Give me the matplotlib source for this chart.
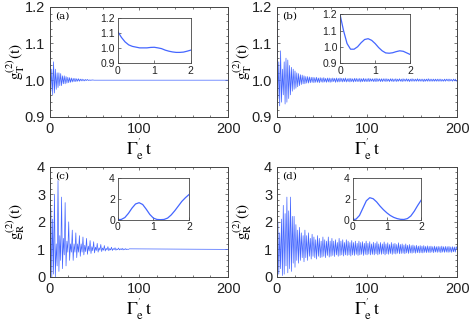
import matplotlib.pyplot as plt
import numpy as np
from matplotlib.ticker import AutoMinorLocator

plt.rcParams['mathtext.fontset'] = 'stix'
plt.rcParams['font.family'] = 'Liberation Sans'

# main curves, sampled every DT in units of Gamma_e' t
DT = 1.0
t_end = 200

g_a = [1.10, 0.97, 1.03, 0.96, 1.05, 0.965, 1.03, 0.975, 1.02, 0.98,
       1.02, 0.985, 1.018, 0.985, 1.012, 0.99, 1.012, 0.99, 1.01, 0.992,
       1.008, 0.993, 1.007, 0.994, 1.006, 0.995, 1.005, 0.996, 1.005, 0.996,
       1.004, 0.997, 1.004, 0.997, 1.003, 0.998, 1.003, 0.998, 1.002, 0.998,
       1.002, 0.999, 1.002, 0.999, 1.001, 0.999, 1.001, 0.9995, 1.001, 1.0,
       1.0]

g_b = [1.20, 0.95, 1.05, 0.93, 1.08, 0.94, 1.03, 0.96, 1.05, 0.935,
       1.06, 0.94, 1.055, 0.95, 1.04, 0.96, 1.035, 0.97, 1.03, 0.975,
       1.025, 0.978, 1.02, 0.982, 1.018, 0.985, 1.015, 0.988, 1.014, 0.99,
       1.012, 0.99, 1.01, 0.992, 1.01, 0.992, 1.009, 0.993, 1.008, 0.994,
       1.008, 0.993, 1.007, 0.994, 1.008, 0.994, 1.006, 0.993, 1.007, 0.995,
       1.006, 0.994, 1.007, 0.995, 1.005, 0.994, 1.006, 0.995, 1.006, 0.994,
       1.005, 0.995, 1.006, 0.996, 1.005, 0.994, 1.006, 0.995, 1.005, 0.995,
       1.006, 0.996, 1.005, 0.995, 1.005, 0.996, 1.006, 0.995, 1.004, 0.996,
       1.005, 0.995, 1.005, 0.996, 1.004, 0.995, 1.005, 0.996, 1.005, 0.996,
       1.004, 0.996, 1.005, 0.995, 1.004, 0.996, 1.005, 0.996, 1.004, 0.996,
       1.004, 0.996, 1.005, 0.996, 1.004, 0.997, 1.004, 0.996, 1.004, 0.996,
       1.005, 0.996, 1.004, 0.997, 1.004, 0.996, 1.004, 0.996, 1.004, 0.997,
       1.004, 0.996, 1.004, 0.997, 1.003, 0.996, 1.004, 0.997, 1.004, 0.996,
       1.003, 0.997, 1.004, 0.996, 1.003, 0.997, 1.004, 0.997, 1.003, 0.996,
       1.004, 0.997, 1.003, 0.997, 1.004, 0.997, 1.003, 0.996, 1.003, 0.997,
       1.004, 0.997, 1.003, 0.997, 1.003, 0.997, 1.004, 0.997, 1.003, 0.997,
       1.003, 0.997, 1.003, 0.996, 1.003, 0.997, 1.003, 0.997, 1.004, 0.997,
       1.003, 0.997, 1.003, 0.997, 1.003, 0.997, 1.003, 0.997, 1.003, 0.997,
       1.003, 0.997, 1.003, 0.997, 1.002, 0.997, 1.003, 0.997, 1.003, 0.998,
       1.003, 0.997, 1.003, 0.998, 1.002, 0.997, 1.003, 0.998, 1.003, 0.997,
       1.0]

g_c = [0.0, 2.5, 0.0, 2.1, 0.1, 3.0, 0.0, 1.2, 0.4, 3.5,
       0.2, 1.5, 0.6, 2.9, 0.3, 1.4, 0.8, 2.7, 0.4, 1.3,
       0.9, 2.0, 0.6, 1.2, 0.9, 1.7, 0.6, 1.2, 0.9, 1.6,
       0.7, 1.2, 0.9, 1.5, 0.75, 1.2, 0.9, 1.45, 0.8, 1.15,
       0.92, 1.4, 0.82, 1.12, 0.94, 1.32, 0.85, 1.1, 0.95, 1.28,
       0.87, 1.08, 0.96, 1.22, 0.9, 1.06, 0.97, 1.18, 0.92, 1.05,
       0.97, 1.14, 0.94, 1.04, 0.98, 1.1, 0.95, 1.03, 0.98, 1.08,
       0.96, 1.03, 0.99, 1.06, 0.97, 1.02, 0.99, 1.05, 0.98, 1.02,
       0.99, 1.04, 0.98, 1.02, 0.99, 1.03, 0.99, 1.01, 1.0, 1.02,
       1.0]

g_d = [0.0, 2.0, 0.1, 1.6, 0.3, 2.1, 0.05, 2.6, 0.1, 2.3,
       0.4, 2.9, 0.15, 2.4, 0.3, 2.9, 0.2, 2.2, 0.5, 2.2,
       0.35, 1.9, 0.6, 1.7, 0.5, 1.8, 0.6, 1.6, 0.7, 1.5,
       0.55, 1.7, 0.7, 1.5, 0.6, 1.6, 0.75, 1.4, 0.65, 1.55,
       0.75, 1.45, 0.7, 1.35, 0.65, 1.5, 0.75, 1.4, 0.7, 1.3,
       0.72, 1.45, 0.75, 1.35, 0.7, 1.3, 0.78, 1.45, 0.72, 1.3,
       0.75, 1.4, 0.78, 1.3, 0.74, 1.35, 0.8, 1.25, 0.75, 1.4,
       0.78, 1.3, 0.8, 1.35, 0.76, 1.25, 0.8, 1.35, 0.78, 1.3,
       0.8, 1.25, 0.76, 1.32, 0.8, 1.25, 0.78, 1.3, 0.82, 1.22,
       0.78, 1.3, 0.8, 1.25, 0.82, 1.28, 0.78, 1.22, 0.82, 1.3,
       0.8, 1.22, 0.83, 1.28, 0.8, 1.2, 0.82, 1.26, 0.8, 1.22,
       0.84, 1.28, 0.8, 1.2, 0.83, 1.25, 0.82, 1.2, 0.84, 1.27,
       0.8, 1.2, 0.84, 1.24, 0.82, 1.18, 0.85, 1.25, 0.82, 1.2,
       0.85, 1.22, 0.83, 1.18, 0.86, 1.24, 0.84, 1.18, 0.85, 1.2,
       0.86, 1.16, 0.84, 1.2, 0.87, 1.15, 0.85, 1.18, 0.87, 1.14,
       0.86, 1.16, 0.88, 1.13, 0.86, 1.15, 0.88, 1.12, 0.87, 1.14,
       0.88, 1.12, 0.87, 1.14, 0.89, 1.11, 0.88, 1.13, 0.89, 1.11,
       0.88, 1.12, 0.9, 1.1, 0.88, 1.12, 0.9, 1.1, 0.89, 1.11,
       0.9, 1.1, 0.88, 1.12, 0.9, 1.1, 0.89, 1.11, 0.9, 1.1,
       0.89, 1.11, 0.9, 1.09, 0.89, 1.1, 0.91, 1.09, 0.9, 1.1,
       1.0]

# insets, sampled every 0.1 from 0 to 2
t_in = np.linspace(0, 2, 21)
in_a = [1.11, 1.07, 1.04, 1.02, 1.01, 1.005, 1.0, 1.0, 1.0, 1.003,
        1.004, 1.0, 0.995, 0.985, 0.978, 0.973, 0.97, 0.97, 0.972, 0.978, 0.985]
in_b = [1.20, 1.10, 1.02, 0.985, 0.985, 1.0, 1.025, 1.045, 1.05, 1.04,
        1.02, 0.995, 0.975, 0.962, 0.96, 0.963, 0.97, 0.975, 0.972, 0.962, 0.952]
in_c = [0.0, 0.02, 0.2, 0.6, 1.1, 1.5, 1.62, 1.45, 1.0, 0.5,
        0.15, 0.02, 0.0, 0.02, 0.15, 0.45, 0.85, 1.3, 1.75, 2.1, 2.4]
in_d = [0.0, 0.05, 0.4, 1.1, 1.8, 2.1, 2.0, 1.7, 1.3, 0.95,
        0.65, 0.4, 0.22, 0.1, 0.03, 0.02, 0.1, 0.35, 0.8, 1.35, 1.85]

def time_axis(vals, dt, tmax):
    # last value is the flat tail, held out to tmax
    t = np.arange(len(vals) - 1) * dt
    return np.append(t, tmax)

blue = '#4466ff'
spine_c = '#444444'

fig = plt.figure(figsize=(4.69, 3.22), dpi=100)

panels = [
    # label, main data, inset data, main box, inset box (axes frac), ylim, yticks, ylabel
    ('(a)', g_a, in_a, [0.1066, 0.637, 0.380, 0.342], [0.38, 0.49, 0.41, 0.41],
     (0.9, 1.2), [0.9, 1.0, 1.1, 1.2], r'$\mathrm{g}_{\mathrm{T}}^{(2)}\mathrm{(t)}$'),
    ('(b)', g_b, in_b, [0.5906, 0.637, 0.384, 0.342], [0.35, 0.49, 0.39, 0.44],
     (0.9, 1.2), [0.9, 1.0, 1.1, 1.2], r'$\mathrm{g}_{\mathrm{T}}^{(2)}\mathrm{(t)}$'),
    ('(c)', g_c, in_c, [0.1066, 0.140, 0.380, 0.342], [0.38, 0.52, 0.40, 0.38],
     (0, 4), [0, 1, 2, 3, 4], r'$\mathrm{g}_{\mathrm{R}}^{(2)}\mathrm{(t)}$'),
    ('(d)', g_d, in_d, [0.5906, 0.140, 0.384, 0.342], [0.42, 0.52, 0.38, 0.38],
     (0, 4), [0, 1, 2, 3, 4], r'$\mathrm{g}_{\mathrm{R}}^{(2)}\mathrm{(t)}$'),
]

for label, g, gin, box, ibox, ylim, yt, ylab in panels:
    ax = fig.add_axes(box)
    ax.plot(time_axis(g, DT, t_end), g, color=blue, lw=0.5)
    ax.set_xlim(0, 200)
    ax.set_ylim(*ylim)
    ax.set_xticks([0, 100, 200])
    ax.set_yticks(yt)
    if ylim[1] < 2:
        ax.set_yticklabels(['%.1f' % v for v in yt])
    ax.xaxis.set_minor_locator(AutoMinorLocator(5))
    ax.yaxis.set_minor_locator(AutoMinorLocator(5))
    ax.tick_params(which='both', direction='in', top=True, right=True,
                   colors=spine_c, labelcolor='#222222', labelsize=10.5)
    ax.tick_params(which='major', length=2.5, width=0.5)
    ax.tick_params(which='minor', length=1.5, width=0.5)
    for s in ax.spines.values():
        s.set_color(spine_c)
        s.set_linewidth(0.7)
    ax.set_xlabel(r"$\Gamma_{\mathrm{e}}^{'}\,\mathrm{t}$", fontsize=13, labelpad=0)
    ax.set_ylabel(ylab, fontsize=11)
    ax.yaxis.set_label_coords(-0.13, 0.5)
    ax.text(0.03, 0.955, label, transform=ax.transAxes, fontsize=7.5,
            family='DejaVu Serif', va='top', ha='left')

    ins = ax.inset_axes(ibox)
    ins.plot(t_in, gin, color=blue, lw=0.9)
    ins.set_xlim(0, 2)
    ins.set_ylim(*ylim)
    ins.set_xticks([0, 1, 2])
    if ylim[1] < 2:
        ins.set_yticks([0.9, 1.0, 1.1, 1.2])
        ins.set_yticklabels(['0.9', '1.0', '1.1', '1.2'])
    else:
        ins.set_yticks([0, 2, 4])
    ins.tick_params(direction='in', length=2, width=0.5, colors=spine_c,
                    labelcolor='#222222', labelsize=7.5, pad=2)
    for s in ins.spines.values():
        s.set_color(spine_c)
        s.set_linewidth(0.6)

fig.savefig('out.png', dpi=100)
